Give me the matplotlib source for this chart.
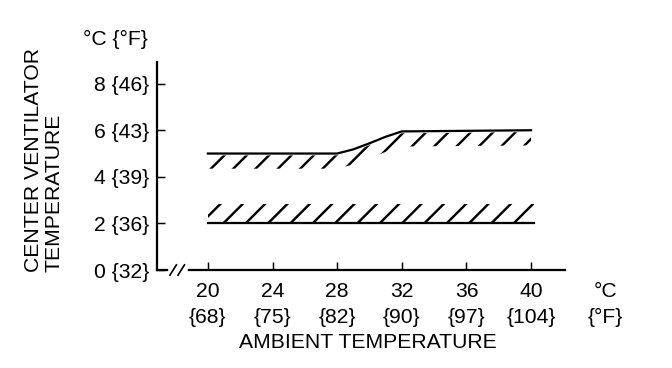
import numpy as np
import matplotlib
matplotlib.use("Agg")
import matplotlib.pyplot as plt

# Axis tick values (deg C with deg F in braces)
ambient_c = [20, 24, 28, 32, 36, 40]
ambient_f = [68, 75, 82, 90, 97, 104]
vent_c = [0, 2, 4, 6, 8]
vent_f = [32, 36, 39, 43, 46]

# Upper limit of the centre ventilator temperature band
upper_x = [20, 28, 29, 30, 31, 32, 40]
upper_y = [5.0, 5.0, 5.18, 5.44, 5.72, 5.95, 6.0]
upper_depth = 0.65   # hatching below the upper line

# Lower limit
lower_x = [20, 40.2]
lower_y = [2.0, 2.0]
lower_depth = 0.85   # hatching above the lower line

plt.rcParams['font.family'] = ['Liberation Sans', 'DejaVu Sans']
plt.rcParams['hatch.linewidth'] = 1.3

DPI = 134.4
fig = plt.figure(figsize=(672 / DPI, 368 / DPI), dpi=DPI)
ax = fig.add_axes([157 / 672, 1 - 270 / 368, 408 / 672, 208 / 368])
fs = 11.3
xpad = 6.5

# upper band
ax.plot(upper_x, upper_y, color='black', lw=1.2)
uy = np.array(upper_y)
ax.fill_between(upper_x, uy - upper_depth, uy - 0.08, facecolor='none',
                edgecolor='black', hatch='//', linewidth=0)

# lower band
ax.plot(lower_x, lower_y, color='black', lw=1.2)
ly = np.array(lower_y)
ax.fill_between(lower_x, ly + 0.08, ly + lower_depth, facecolor='none',
                edgecolor='black', hatch='//', linewidth=0)

ax.set_xlim(16.85, 42.1)
ax.set_ylim(0, 8.93)

ax.set_xticks(ambient_c)
ax.set_xticklabels([f"{c}\n{{{f}}}" for c, f in zip(ambient_c, ambient_f)],
                   fontsize=fs, linespacing=1.45)
ax.set_yticks(vent_c)
ax.set_yticklabels([f"{c} {{{f}}}" for c, f in zip(vent_c, vent_f)], fontsize=fs)
ax.tick_params(axis='both', direction='in', length=4.5, width=0.8, pad=4)
ax.tick_params(axis='x', pad=xpad)

for s in ['top', 'right']:
    ax.spines[s].set_visible(False)
for s in ['left', 'bottom']:
    ax.spines[s].set_linewidth(1.2)

# axis break mark on the x axis
bx = 18.15
ax.plot([bx - 0.45, bx + 0.45], [0, 0], color='white', lw=3, clip_on=False, zorder=5)
for dx in (-0.35, 0.15):
    ax.plot([bx + dx - 0.15, bx + dx + 0.25], [-0.22, 0.22], color='black',
            lw=0.9, clip_on=False, zorder=6)

# unit labels
ax.annotate("°C\n{°F}", xy=(44.6, 0), xycoords=('data', 'axes fraction'),
            xytext=(0, -xpad), textcoords='offset points',
            ha='center', va='top', fontsize=fs, linespacing=1.45,
            annotation_clip=False)
fig.text(148 / 672, 1 - 39 / 368, "°C {°F}", ha='right', va='center', fontsize=fs)

# axis titles
fig.text(44 / 672, 1 - 272 / 368, "CENTER VENTILATOR\nTEMPERATURE", rotation=90,
         ha='center', va='bottom', multialignment='left', fontsize=fs,
         linespacing=1.1)
fig.text(368 / 672, 1 - 343 / 368, "AMBIENT TEMPERATURE", ha='center',
         va='center', fontsize=fs)

fig.savefig("out.png", dpi=DPI)
